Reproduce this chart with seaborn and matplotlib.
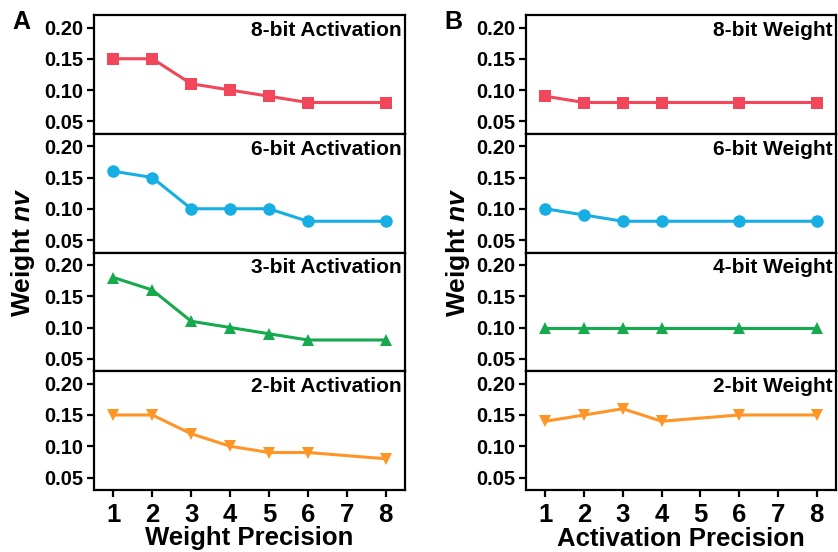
import matplotlib
matplotlib.use("Agg")
import matplotlib.pyplot as plt
import seaborn as sns
import pandas as pd

# panel A: weight precision sweep at fixed activation bits
weight_prec = [1, 2, 3, 4, 5, 6, 8]
a_labels = ["8-bit Activation", "6-bit Activation", "3-bit Activation", "2-bit Activation"]
a_values = [
    [0.15, 0.15, 0.11, 0.10, 0.09, 0.08, 0.08],
    [0.16, 0.15, 0.10, 0.10, 0.10, 0.08, 0.08],
    [0.18, 0.16, 0.11, 0.10, 0.09, 0.08, 0.08],
    [0.15, 0.15, 0.12, 0.10, 0.09, 0.09, 0.08],
]

# panel B: activation precision sweep at fixed weight bits
act_prec = [1, 2, 3, 4, 6, 8]
b_labels = ["8-bit Weight", "6-bit Weight", "4-bit Weight", "2-bit Weight"]
b_values = [
    [0.09, 0.08, 0.08, 0.08, 0.08, 0.08],
    [0.10, 0.09, 0.08, 0.08, 0.08, 0.08],
    [0.10, 0.10, 0.10, 0.10, 0.10, 0.10],
    [0.14, 0.15, 0.16, 0.14, 0.15, 0.15],
]

colors = ["#F2475A", "#16AEE3", "#16A94E", "#FF9427"]
markers = ["s", "o", "^", "v"]
xticks = [1, 2, 3, 4, 5, 6, 7, 8]
yticks = [0.05, 0.10, 0.15, 0.20]

sns.set_style("ticks")
plt.rcParams["font.family"] = ["Liberation Sans", "DejaVu Sans"]
plt.rcParams["font.weight"] = "bold"
plt.rcParams["axes.linewidth"] = 1.6
for key in ["text.color", "axes.edgecolor", "axes.labelcolor", "xtick.color", "ytick.color"]:
    plt.rcParams[key] = "black"
plt.rcParams["mathtext.fontset"] = "custom"
plt.rcParams["mathtext.rm"] = "Liberation Sans:bold"
plt.rcParams["mathtext.it"] = "Liberation Sans:bold:italic"

fig = plt.figure(figsize=(8.38, 5.52), dpi=100)
W, H = 838.0, 552.0


def draw_panel(left, right, xs, labels, values, xlabel):
    top, bottom = 15, 490
    h = (bottom - top) / 4
    axes = []
    for i in range(4):
        y0 = top + i * h
        ax = fig.add_axes([left / W, 1 - (y0 + h) / H, (right - left) / W, h / H])
        axes.append(ax)
    for k, ax in enumerate(axes):
        df = pd.DataFrame({"x": xs, "y": values[k]})
        sns.lineplot(data=df, x="x", y="y", ax=ax, color=colors[k],
                     marker=markers[k], markersize=9, markeredgewidth=0,
                     linewidth=2.2)
        ax.set_xlim(0.5, 8.5)
        ax.set_ylim(0.03, 0.22)
        ax.set_yticks(yticks)
        ax.set_yticklabels([f"{t:.2f}" for t in yticks])
        ax.set_xticks(xticks)
        ax.tick_params(axis="y", direction="out", length=5, width=1.6,
                       labelsize=14.5, pad=3)
        ax.tick_params(axis="x", direction="out", length=5, width=1.6,
                       labelsize=18.5, pad=4)
        for lab in ax.get_yticklabels() + ax.get_xticklabels():
            lab.set_fontweight("bold")
        ax.set_ylabel("")
        ax.set_xlabel("")
        if k < 3:
            ax.tick_params(axis="x", bottom=False, labelbottom=False)
        ax.text(0.99, 0.95, labels[k], transform=ax.transAxes, ha="right",
                va="top", fontsize=15, fontweight="bold")
    axes[-1].set_xlabel(xlabel, fontsize=18.5, fontweight="bold", labelpad=0)
    return axes


draw_panel(94, 405, weight_prec, a_labels, a_values, "Weight Precision")
draw_panel(526, 836, act_prec, b_labels, b_values, "Activation Precision")

for xc in (23, 458):
    fig.text(xc / W, 1 - 252 / H, r"Weight $\mathit{nv}$", rotation=90,
             ha="center", va="center", fontsize=19, fontweight="bold")

fig.text(12 / W, 1 - 22 / H, "A", fontsize=18, fontweight="bold", va="center")
fig.text(444 / W, 1 - 22 / H, "B", fontsize=18, fontweight="bold", va="center")

fig.savefig("out.png", dpi=100)
